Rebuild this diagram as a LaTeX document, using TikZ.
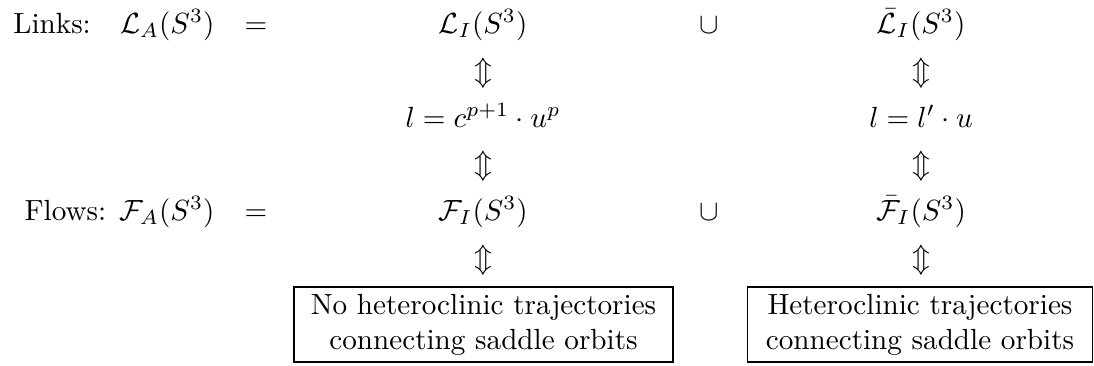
\documentclass[tikz,border=0pt]{standalone}
\usepackage{amsmath,amssymb}
\begin{document}
\begin{tikzpicture}[x=0.343pt,y=-0.343pt,
  txt/.style={inner sep=0pt,anchor=base},
  lbl/.style={inner sep=0pt,anchor=base east},
  ud/.style={inner sep=0pt,anchor=base},
  framebox/.style={draw,line width=0.4pt,align=center,inner sep=0pt}]
\useasboundingbox (0,0) rectangle (1094,365);
% row 1
\node[lbl] (links) at (215,33) {Links:\quad$\mathcal{L}_A(S^3)$};
\node[txt] (eq1) at (256,33) {$=$};
\node[txt] (LI) at (483,33) {$\mathcal{L}_I(S^3)$};
\node[txt] (cup1) at (709,33) {$\cup$};
\node[txt] (LbI) at (921,33) {$\bar{\mathcal{L}}_I(S^3)$};
% arrows
\node[ud] (a1) at (483,80) {$\Updownarrow$};
\node[ud] (b1) at (921,80) {$\Updownarrow$};
% row 3
\node[txt] (f1) at (483,127) {$l=c^{p+1}\cdot u^p$};
\node[txt] (f2) at (921,127) {$l=l'\cdot u$};
\node[ud] (a2) at (483,173) {$\Updownarrow$};
\node[ud] (b2) at (921,173) {$\Updownarrow$};
% row 5
\node[lbl] (flows) at (215,220) {Flows: $\mathcal{F}_A(S^3)$};
\node[txt] (eq2) at (256,220) {$=$};
\node[txt] (FI) at (483,220) {$\mathcal{F}_I(S^3)$};
\node[txt] (cup2) at (709,220) {$\cup$};
\node[txt] (FbI) at (921,220) {$\bar{\mathcal{F}}_I(S^3)$};
\node[ud] (a3) at (483,267) {$\Updownarrow$};
\node[ud] (b3) at (921,267) {$\Updownarrow$};
% boxes
\node[framebox,minimum width=130pt,minimum height=25.7pt] (box1) at (483.5,324.5)
  {No heteroclinic trajectories\\connecting saddle orbits};
\node[framebox,minimum width=118.6pt,minimum height=25.7pt] (box2) at (920,324.5)
  {Heteroclinic trajectories\\connecting saddle orbits};
\end{tikzpicture}
\end{document}
